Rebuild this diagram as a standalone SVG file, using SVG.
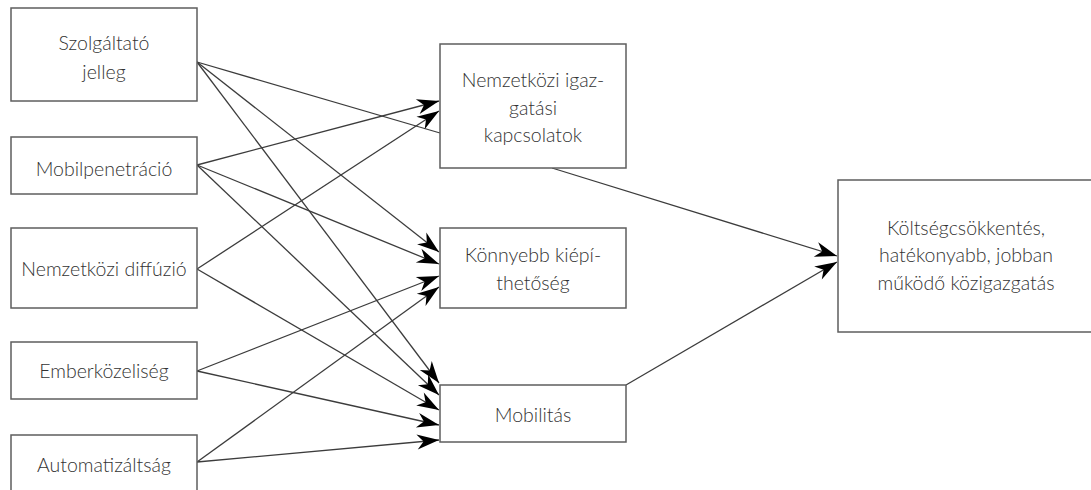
<svg xmlns="http://www.w3.org/2000/svg" width="1091" height="490" viewBox="0 0 1091 490">
  <style>
    .box { fill: #ffffff; stroke: #5e5e5e; stroke-width: 1.5; }
    .lbl { font-family: Lato, "Open Sans", "Liberation Sans", sans-serif; font-size: 19.5px; font-weight: 300; fill: #333333; text-anchor: middle; }
    .edge { stroke: #3c3c3c; stroke-width: 1.3; fill: none; }
    .arr { marker-end: url(#head); }
  </style>
  <defs>
    <marker id="head" markerUnits="userSpaceOnUse" viewBox="-23 -8 24 16" markerWidth="24" markerHeight="16" refX="0" refY="0" orient="auto">
      <path d="M0,0 L-22,-7.5 L-15.5,0 L-22,7.5 Z" fill="#000000"/>
    </marker>
  </defs>
  <rect width="1091" height="490" fill="#ffffff"/>

  <!-- connectors -->
  <g id="connectors">
    <!-- Szolgáltató jelleg -->
    <line class="edge" x1="197" y1="62" x2="440" y2="133"/>
    <line class="edge arr" x1="197" y1="62" x2="439" y2="252"/>
    <line class="edge arr" x1="197" y1="62" x2="439" y2="383"/>
    <!-- Mobilpenetráció -->
    <line class="edge arr" x1="197" y1="165" x2="439" y2="101"/>
    <line class="edge arr" x1="197" y1="165" x2="439" y2="264"/>
    <line class="edge arr" x1="197" y1="165" x2="439" y2="395"/>
    <!-- Nemzetközi diffúzió -->
    <line class="edge arr" x1="197" y1="269" x2="439" y2="111"/>
    <line class="edge arr" x1="197" y1="269" x2="439" y2="410"/>
    <!-- Emberközeliség -->
    <line class="edge arr" x1="197" y1="371" x2="439" y2="276"/>
    <line class="edge arr" x1="197" y1="371" x2="439" y2="425"/>
    <!-- Automatizáltság -->
    <line class="edge arr" x1="197" y1="462" x2="439" y2="287"/>
    <line class="edge arr" x1="197" y1="462" x2="439" y2="440"/>
    <!-- to the outcome -->
    <line class="edge arr" x1="552" y1="168" x2="837" y2="256"/>
    <line class="edge arr" x1="626" y1="385" x2="837" y2="262"/>
  </g>

  <!-- left column -->
  <g id="szolgaltato">
    <rect class="box" x="11" y="8" width="186" height="93"/>
    <text class="lbl" x="104" y="50">Szolgáltató</text>
    <text class="lbl" x="104" y="79">jelleg</text>
  </g>
  <g id="mobilpenetracio">
    <rect class="box" x="11" y="137" width="186" height="57"/>
    <text class="lbl" x="104" y="176">Mobilpenetráció</text>
  </g>
  <g id="diffuzio">
    <rect class="box" x="11" y="228" width="186" height="80"/>
    <text class="lbl" x="104" y="276">Nemzetközi diffúzió</text>
  </g>
  <g id="emberkozeliseg">
    <rect class="box" x="11" y="342" width="186" height="57"/>
    <text class="lbl" x="104" y="378">Emberközeliség</text>
  </g>
  <g id="automatizaltsag">
    <rect class="box" x="11" y="435" width="186" height="60"/>
    <text class="lbl" x="104" y="472">Automatizáltság</text>
  </g>

  <!-- middle column -->
  <g id="igazgatasi">
    <rect class="box" x="440" y="44" width="186" height="124"/>
    <text class="lbl" x="533" y="87">Nemzetközi igaz-</text>
    <text class="lbl" x="533" y="115">gatási</text>
    <text class="lbl" x="533" y="142">kapcsolatok</text>
  </g>
  <g id="kiepithetoseg">
    <rect class="box" x="440" y="228" width="186" height="80"/>
    <text class="lbl" x="533" y="262">Könnyebb kiépí-</text>
    <text class="lbl" x="533" y="290">thetőség</text>
  </g>
  <g id="mobilitas">
    <rect class="box" x="440" y="385" width="186" height="57"/>
    <text class="lbl" x="533" y="422">Mobilitás</text>
  </g>

  <!-- outcome -->
  <g id="koltsegcsokkentes">
    <rect class="box" x="838" y="180" width="260" height="152"/>
    <text class="lbl" x="966" y="235">Költségcsökkentés,</text>
    <text class="lbl" x="966" y="262">hatékonyabb, jobban</text>
    <text class="lbl" x="966" y="290">működő közigazgatás</text>
  </g>
</svg>
